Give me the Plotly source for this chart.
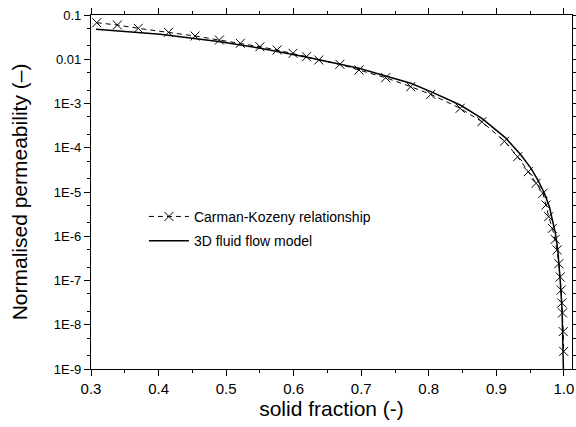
import plotly.graph_objects as go

# Carman-Kozeny relationship (dashed line with x markers)
ck_fs = [0.3085, 0.339, 0.370, 0.4147, 0.454, 0.490, 0.521, 0.550, 0.5755, 0.599,
         0.619, 0.6372, 0.6684, 0.6966, 0.7362, 0.7733, 0.803, 0.8465, 0.8786, 0.912,
         0.9316, 0.9473, 0.9588, 0.969, 0.9736, 0.9775, 0.983, 0.987, 0.990, 0.9925,
         0.9945, 0.996, 0.997, 0.998, 0.999, 0.9997]
ck_perm = [0.067, 0.0594, 0.050, 0.0406, 0.0335, 0.0272, 0.0229, 0.0192, 0.0162, 0.0136,
           0.0114, 0.00962, 0.00769, 0.00571, 0.00383, 0.0024, 0.00161, 7.8e-4, 3.88e-4, 1.4e-4,
           6.28e-5, 2.88e-5, 1.57e-5, 9.35e-6, 5.08e-6, 2.77e-6, 1.51e-6, 8.5e-7, 4.9e-7, 2.4e-7,
           1.2e-7, 6.1e-8, 3.1e-8, 1.85e-8, 7.0e-9, 2.5e-9]

# 3D fluid flow model (solid line)
ff_fs = [0.3074, 0.4024, 0.4914, 0.5507, 0.62, 0.6966, 0.7362, 0.7733, 0.803, 0.8465,
         0.8786, 0.9128, 0.9365, 0.9513, 0.9613, 0.9711, 0.9785, 0.9835, 0.9874, 0.991,
         0.9933, 0.9948, 0.9973, 0.9988, 0.9996]
ff_perm = [0.0475, 0.0366, 0.0249, 0.0177, 0.01107, 0.00624, 0.00418, 0.00286, 0.00185, 9.25e-4,
           4.63e-4, 1.72e-4, 6.86e-5, 3.43e-5, 1.87e-5, 9.35e-6, 4.66e-6, 2.33e-6, 1.17e-6, 4.89e-7,
           2.05e-7, 8.65e-8, 2.15e-8, 4.5e-9, 6e-10]

x_ticks = [0.3, 0.4, 0.5, 0.6, 0.7, 0.8, 0.9, 1.0]
x_labels = ["0.3", "0.4", "0.5", "0.6", "0.7", "0.8", "0.9", "1.0"]
y_ticks = [0.1, 0.01, 1e-3, 1e-4, 1e-5, 1e-6, 1e-7, 1e-8, 1e-9]
y_labels = ["0.1", "0.01", "1E-3", "1E-4", "1E-5", "1E-6", "1E-7", "1E-8", "1E-9"]

FONT = "Arial, Liberation Sans, sans-serif"

fig = go.Figure()
fig.add_trace(go.Scatter(
    x=ck_fs, y=ck_perm, mode="lines+markers", name="Carman-Kozeny relationship",
    legendgroup="ck",
    line=dict(color="black", width=1, dash="5px,4px"),
    marker=dict(symbol="x-thin", size=9, line=dict(color="black", width=1)),
))
fig.add_trace(go.Scatter(
    x=ff_fs, y=ff_perm, mode="lines", name="3D fluid flow model",
    legendgroup="ff",
    line=dict(color="black", width=1.5),
))

fig.update_layout(
    width=576, height=427,
    margin=dict(l=91, r=4, t=15, b=58),
    paper_bgcolor="white", plot_bgcolor="white",
    font=dict(family=FONT, color="black", size=14),
    showlegend=True,
    legend=dict(x=0.11, y=0.475, xanchor="left", yanchor="top",
                bgcolor="rgba(0,0,0,0)", font=dict(size=14, family=FONT),
                itemwidth=40, tracegroupgap=3),
    xaxis=dict(
        range=[0.3, 1.012], tickvals=x_ticks, ticktext=x_labels, automargin=False,
        showline=True, linecolor="black", linewidth=1.2, mirror="ticks",
        ticks="outside", ticklen=6, tickcolor="black",
        minor=dict(dtick=0.05, ticks="outside", ticklen=3, tickcolor="black"),
        showgrid=False, zeroline=False,
        tickfont=dict(size=15, family=FONT),
        title=dict(text="solid fraction (-)", font=dict(size=21, family=FONT), standoff=0),
    ),
    yaxis=dict(
        type="log", range=[-9, -1], tickvals=y_ticks, ticktext=y_labels, automargin=False,
        showline=True, linecolor="black", linewidth=1.2, mirror="ticks",
        ticks="outside", ticklen=6, tickcolor="black",
        minor=dict(ticks="outside", ticklen=3, tickcolor="black", showgrid=False),
        showgrid=False, zeroline=False,
        tickfont=dict(size=13, family=FONT),
        title=dict(text="Normalised permeability (\u2013)", font=dict(size=21, family=FONT), standoff=20),
    ),
)

fig.write_html("out.html", config={"displayModeBar": False},
               post_script="document.body.style.margin='0';")
